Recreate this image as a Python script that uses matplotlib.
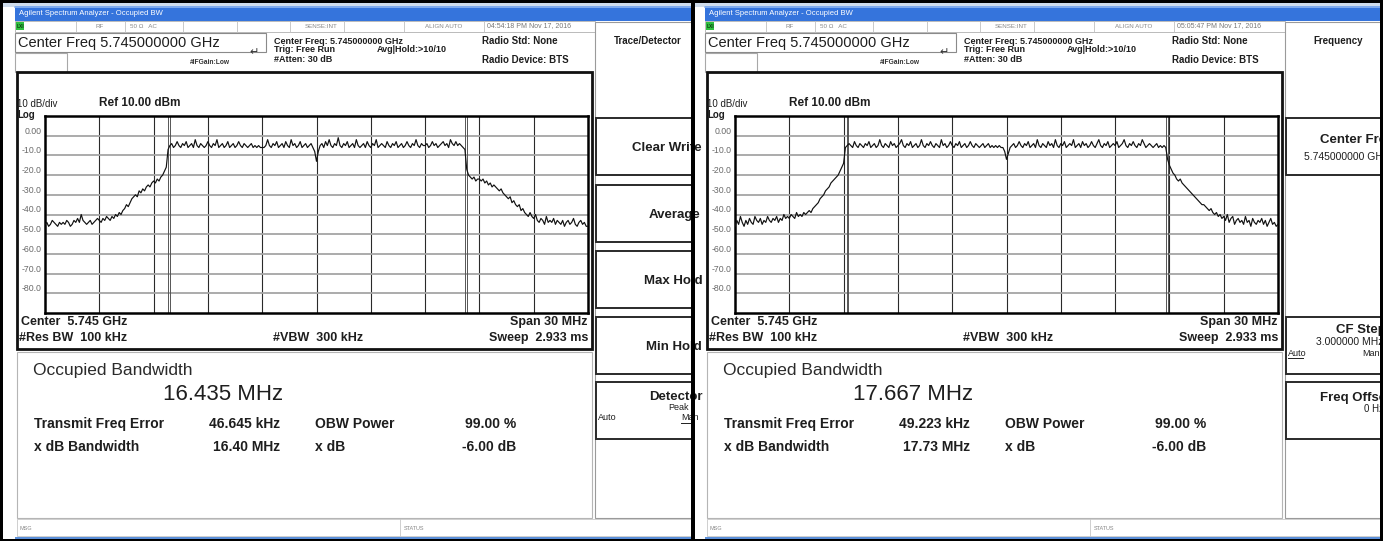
import numpy as np
import matplotlib.pyplot as plt
from matplotlib.patches import Rectangle

plt.rcParams['font.family'] = ['Liberation Sans', 'DejaVu Sans']

W, H = 1383, 541

# sweep grid: 301 points across the 30 MHz span (offset from 5.745 GHz, MHz)
freq = np.linspace(-15, 15, 301)

# trace levels in dBm (one row = 1 MHz)
trace_left = [
    -45, -44, -46, -45, -43, -44, -45, -46, -44, -45,
    -44, -45, -43, -44, -46, -45, -43, -44, -42, -44,
    -40, -43, -44, -45, -44, -43, -45, -44, -43, -42,
    -43, -44, -42, -43, -41, -42, -43, -41, -42, -40,
    -41, -39, -40, -38, -37, -35, -36, -34, -32, -31,
    -30, -31, -28, -29, -27, -28, -26, -25, -26, -24,
    -23, -24, -22, -23, -21, -20, -18, -16, -7, -5,
    -4, -6, -5, -3, -5, -6, -4, -5, -3, -6,
    -5, -4, -6, -2, -5, -6, -4, -5, -6, -5,
    -3, -5, -6, -4, -5, -2, -6, -5, -4, -6,
    -5, -3, -6, -5, -4, -6, -5, -3, -5, -6,
    -4, -5, -6, -5, -4, -6, -5, -6, -5, -6,
    -6, -6, -5, -2, -5, -6, -4, -5, -3, -6,
    -5, -4, -6, -3, -5, -6, -2, -5, -4, -6,
    -5, -3, -6, -5, -4, -6, -5, -4, -6, -8,
    -13, -8, -5, -4, -6, -3, -5, -2, -5, -6,
    -4, -5, -1, -5, -6, -4, -5, -3, -6, -5,
    -4, -6, -2, -5, -6, -5, -4, -6, -3, -5,
    -6, -4, -5, -2, -6, -5, -4, -5, -6, -3,
    -5, -6, -4, -5, -3, -6, -5, -4, -6, -5,
    -3, -5, -6, -4, -5, -2, -5, -6, -4, -5,
    -5, -4, -6, -5, -3, -5, -4, -6, -5, -4,
    -3, -5, -4, -6, -2, -4, -5, -3, -5, -4,
    -5, -6, -7, -17, -20, -21, -22, -21, -23, -22,
    -22, -23, -22, -24, -23, -25, -24, -26, -25, -26,
    -27, -28, -27, -29, -30, -31, -32, -31, -34, -33,
    -35, -36, -35, -38, -37, -39, -40, -41, -39, -41,
    -42, -40, -43, -44, -42, -43, -45, -41, -44, -43,
    -44, -42, -45, -43, -44, -45, -43, -46, -44, -43,
    -45, -44, -42, -45, -46, -44, -43, -45, -44, -46, -46,
]

trace_right = [
    -46, -43, -45, -41, -44, -46, -43, -45, -42, -44,
    -45, -41, -43, -44, -42, -45, -43, -44, -41, -43,
    -44, -42, -43, -41, -44, -42, -43, -40, -42, -41,
    -42, -40, -41, -42, -39, -41, -40, -41, -39, -40,
    -39, -38, -39, -37, -36, -35, -34, -32, -31, -30,
    -28, -27, -26, -24, -23, -22, -21, -20, -18, -16,
    -14, -6, -5, -4, -5, -6, -3, -5, -6, -4,
    -5, -6, -4, -5, -3, -6, -5, -4, -6, -5,
    -2, -5, -6, -4, -5, -6, -3, -5, -4, -6,
    -5, -4, -2, -5, -6, -4, -5, -3, -6, -5,
    -4, -6, -5, -2, -5, -6, -4, -5, -3, -5,
    -6, -4, -5, -6, -2, -5, -4, -6, -5, -3,
    -5, -6, -4, -5, -3, -6, -5, -4, -6, -5,
    -3, -5, -6, -4, -5, -6, -5, -4, -6, -5,
    -4, -6, -5, -6, -5, -6, -5, -6, -6, -8,
    -12, -9, -6, -5, -4, -6, -5, -3, -5, -6,
    -4, -5, -3, -6, -5, -4, -6, -2, -5, -6,
    -4, -5, -6, -3, -5, -4, -6, -2, -5, -6,
    -4, -5, -3, -6, -5, -4, -5, -2, -6, -5,
    -4, -6, -3, -5, -4, -6, -5, -3, -5, -6,
    -4, -2, -5, -6, -4, -5, -3, -6, -5, -4,
    -5, -3, -6, -5, -4, -2, -5, -6, -4, -5,
    -3, -5, -6, -4, -5, -2, -4, -6, -5, -4,
    -5, -6, -5, -4, -6, -5, -6, -5, -6, -12,
    -15, -17, -19, -20, -22, -23, -22, -24, -25, -26,
    -27, -28, -29, -30, -31, -32, -33, -34, -35, -35,
    -36, -37, -38, -37, -39, -40, -39, -41, -40, -42,
    -41, -43, -40, -44, -42, -41, -45, -43, -42, -44,
    -43, -45, -41, -44, -43, -46, -42, -44, -45, -43,
    -44, -42, -45, -43, -46, -44, -42, -45, -44, -46, -45,
]

obw_mhz = [16.435, 17.667]
freq_err_khz = [46.645, 49.223]
xdb_bw_mhz = [16.40, 17.73]
timestamps = ['04:54:18 PM Nov 17, 2016', '05:05:47 PM Nov 17, 2016']
menu_titles = ['Trace/Detector', 'Frequency']
y_ticks = [0, -10, -20, -30, -40, -50, -60, -70, -80]
y_tick_labels = ['0.00', '-10.0', '-20.0', '-30.0', '-40.0', '-50.0', '-60.0', '-70.0', '-80.0']
x_grid = [-12, -9, -6, -3, 0, 3, 6, 9, 12]

fig = plt.figure(figsize=(W / 100, H / 100), dpi=100, facecolor='white')
bg = fig.add_axes([0, 0, 1, 1])
bg.set_xlim(0, W)
bg.set_ylim(H, 0)
bg.axis('off')


def box(x, y, w, h, fc='white', ec='#9a9a9a', lw=0.8, z=1, clip=None):
    r = Rectangle((x, y), w, h, facecolor=fc, edgecolor=ec, linewidth=lw, zorder=z)
    bg.add_patch(r)
    if clip is not None:
        r.set_clip_path(clip)
    return r


def label(x, y, s, size, bold=False, ha='left', color='#1e1e1e', clip=None, z=5):
    t = bg.text(x, y, s, fontsize=size, fontweight='bold' if bold else 'normal',
                ha=ha, va='center', color=color, zorder=z)
    if clip is not None:
        t.set_clip_path(clip)
    return t


def hline(x0, x1, y, color='#1e1e1e', lw=0.8, z=6, clip=None):
    ln, = bg.plot([x0, x1], [y, y], color=color, lw=lw, zorder=z)
    if clip is not None:
        ln.set_clip_path(clip)


def key(ox, top, clip):
    box(ox + 596, top, 120, 57, ec='#2a2a2a', lw=1.4, z=2, clip=clip)


def soft_keys_trace(ox, clip):
    names = ['Clear Write', 'Average', 'Max Hold', 'Min Hold']
    starts = [632, 649, 644, 646]
    tops = [118, 185, 251, 317]
    for name, sx, top in zip(names, starts, tops):
        key(ox, top, clip)
        label(ox + sx, top + 30, name, 9.5, bold=True, clip=clip)
    key(ox, 382, clip)
    label(ox + 649, 397, 'Detector', 9.5, bold=True, clip=clip)
    label(ox + 668, 408, 'Peak', 6.5, clip=clip)
    label(ox + 598, 418, 'Auto', 6.5, clip=clip)
    label(ox + 681, 418, 'Man', 6.5, clip=clip)
    hline(ox + 681, ox + 700, 423, lw=0.7, clip=clip)


def soft_keys_freq(ox, clip):
    key(ox, 118, clip)
    label(ox + 630, 140, 'Center Freq', 9.5, bold=True, clip=clip)
    label(ox + 614, 157, '5.745000000 GHz', 7.5, clip=clip)
    key(ox, 317, clip)
    label(ox + 646, 330, 'CF Step', 9.5, bold=True, clip=clip)
    label(ox + 626, 342, '3.000000 MHz', 7.5, clip=clip)
    label(ox + 598, 353, 'Auto', 6.5, clip=clip)
    hline(ox + 598, ox + 613, 358, lw=0.7, clip=clip)
    label(ox + 672, 353, 'Man', 6.5, clip=clip)
    key(ox, 382, clip)
    label(ox + 630, 398, 'Freq Offset', 9.5, bold=True, clip=clip)
    label(ox + 674, 409, '0 Hz', 7, clip=clip)


def spectrum(ox, levels, obw, ferr):
    x0, x1, y0, y1 = ox + 45, ox + 588, 116, 313
    ax = fig.add_axes([x0 / W, 1 - y1 / H, (x1 - x0) / W, (y1 - y0) / H])
    ax.set_xlim(-15, 15)
    ax.set_ylim(-90, 10)
    for v in x_grid:
        ax.axvline(v, color='#2a2a2a', lw=0.8, zorder=1)
    for v in y_ticks:
        ax.axhline(v, color='#a5a5a5', lw=1.3, zorder=1)
    centre = ferr / 1000.0
    for m in (centre - obw / 2, centre + obw / 2):
        ax.axvline(m - 0.05, color='#555555', lw=0.7, zorder=2)
        ax.axvline(m + 0.05, color='#555555', lw=0.7, zorder=2)
    ax.plot(freq, levels, color='#111111', lw=0.85, zorder=3)
    ax.set_xticks([])
    ax.set_yticks([])
    for s in ax.spines.values():
        s.set_linewidth(1.8)
    for v, t in zip(y_ticks, y_tick_labels):
        ax.text(-0.006, v, t, transform=ax.get_yaxis_transform(), ha='right',
                va='bottom', fontsize=6.3, color='#6a6a6a', clip_on=False)
    return ax


panels = [(0, 691), (690, 1380)]
traces = [trace_left, trace_right]

# pale strip above the window title bars
box(0, 0, W, 7, fc='#cfdcec', ec='none', z=0)

for i, (ox, xend) in enumerate(panels):
    clip = Rectangle((ox + 3, 0), xend - ox - 3, H, transform=bg.transData)

    # window title bar and status row
    box(ox + 15, 6, xend - ox - 15, 15, fc='#3574dc', ec='none', clip=clip)
    hline(ox + 15, xend, 6.5, color='#8fb6f0', lw=1.2, z=2, clip=clip)
    label(ox + 19, 13.5, 'Agilent Spectrum Analyzer - Occupied BW', 5.5, color='white', clip=clip)
    box(ox + 15, 21, 580, 10.5, fc='white', ec='#b0b0b0', lw=0.6, clip=clip)
    box(ox + 16, 22, 8, 8, fc='#2fbf3f', ec='none', z=2)
    label(ox + 17, 26, 'LXI', 3.5, bold=True, color='#0d3d12')
    for sx in [76, 125, 183, 237, 290, 344, 404, 484]:
        bg.plot([ox + sx, ox + sx], [21, 31.5], color='#c0c0c0', lw=0.6, zorder=2)
    label(ox + 96, 26, 'RF', 4.5, color='#888')
    label(ox + 130, 26, '50 Ω   AC', 4.5, color='#888')
    label(ox + 305, 26, 'SENSE:INT', 4.5, color='#888')
    label(ox + 425, 26, 'ALIGN AUTO', 4.5, color='#888')
    label(ox + 487, 26, timestamps[i], 5, color='#777')

    # setup header
    box(ox + 15, 32.5, 251, 19, fc='white', ec='#8a8a8a', lw=0.8)
    label(ox + 18, 42.5, 'Center Freq 5.745000000 GHz', 10.5)
    box(ox + 15, 52.5, 52, 19, fc='white', ec='#a8a8a8', lw=0.8)
    label(ox + 190, 62, '#IFGain:Low', 4.8, bold=True, color='#333')
    label(ox + 249, 52, '\u21b5', 8, color='#333')
    label(ox + 274, 41, 'Center Freq: 5.745000000 GHz', 6.5, bold=True)
    label(ox + 274, 50, 'Trig: Free Run', 6.5, bold=True)
    label(ox + 377, 50, 'Avg|Hold:>10/10', 6.5, bold=True)
    label(ox + 274, 60, '#Atten: 30 dB', 6.5, bold=True)
    label(ox + 482, 41, 'Radio Std: None', 7, bold=True)
    label(ox + 482, 60, 'Radio Device: BTS', 7, bold=True)

    # soft key column
    box(ox + 595, 22, 140, 496, fc='white', ec='#9a9a9a', lw=0.8, clip=clip)
    label(ox + 648, 41, menu_titles[i], 7, bold=True, ha='center', clip=clip)
    if i == 0:
        soft_keys_trace(ox, clip)
    else:
        soft_keys_freq(ox, clip)

    # graticule frame
    box(ox + 17, 72, 575, 277, fc='white', ec='#111', lw=2)
    label(ox + 17, 104, '10 dB/div', 7)
    label(ox + 99, 103, 'Ref 10.00 dBm', 8.5, bold=True)
    label(ox + 17, 115, 'Log', 7, bold=True)
    label(ox + 21, 322, 'Center  5.745 GHz', 9, bold=True)
    label(ox + 588, 322, 'Span 30 MHz', 9, bold=True, ha='right')
    label(ox + 19, 338, '#Res BW  100 kHz', 9, bold=True)
    label(ox + 318, 338, '#VBW  300 kHz', 9, bold=True, ha='center')
    label(ox + 588, 338, 'Sweep  2.933 ms', 9, bold=True, ha='right')

    spectrum(ox, traces[i], obw_mhz[i], freq_err_khz[i])

    # measurement result panel
    box(ox + 17, 352, 575, 166, fc='white', ec='#b5b5b5', lw=0.8)
    label(ox + 33, 371, 'Occupied Bandwidth', 12.5, color='#2a2a2a')
    label(ox + 223, 395, f'{obw_mhz[i]:.3f} MHz', 16, ha='center')
    label(ox + 34, 424, 'Transmit Freq Error', 10, bold=True)
    label(ox + 280, 424, f'{freq_err_khz[i]:.3f} kHz', 10, bold=True, ha='right')
    label(ox + 315, 424, 'OBW Power', 10, bold=True)
    label(ox + 516, 424, '99.00 %', 10, bold=True, ha='right')
    label(ox + 34, 447, 'x dB Bandwidth', 10, bold=True)
    label(ox + 280, 447, f'{xdb_bw_mhz[i]:.2f} MHz', 10, bold=True, ha='right')
    label(ox + 315, 447, 'x dB', 10, bold=True)
    label(ox + 516, 447, '-6.00 dB', 10, bold=True, ha='right')

    # message bar
    box(ox + 17, 519, xend - ox - 17, 17, fc='white', ec='#c8c8c8', lw=0.6, clip=clip)
    bg.plot([ox + 400, ox + 400], [519, 536], color='#c8c8c8', lw=0.6, zorder=2)
    label(ox + 20, 528, 'MSG', 4, color='#888')
    label(ox + 404, 528, 'STATUS', 4, color='#888')
    box(ox + 15, 536.5, xend - ox - 15, 2, fc='#5b8fd9', ec='none', z=3, clip=clip)

# outer black frame and divider
for r in [(0, 0, W, 2.5), (0, 0, 2.5, H), (0, H - 2.5, W, 2.5), (W - 3.5, 0, 3.5, H), (690.5, 0, 4.5, H)]:
    box(*r, fc='black', ec='none', z=20)

fig.savefig('out.png', dpi=100, facecolor='white')
